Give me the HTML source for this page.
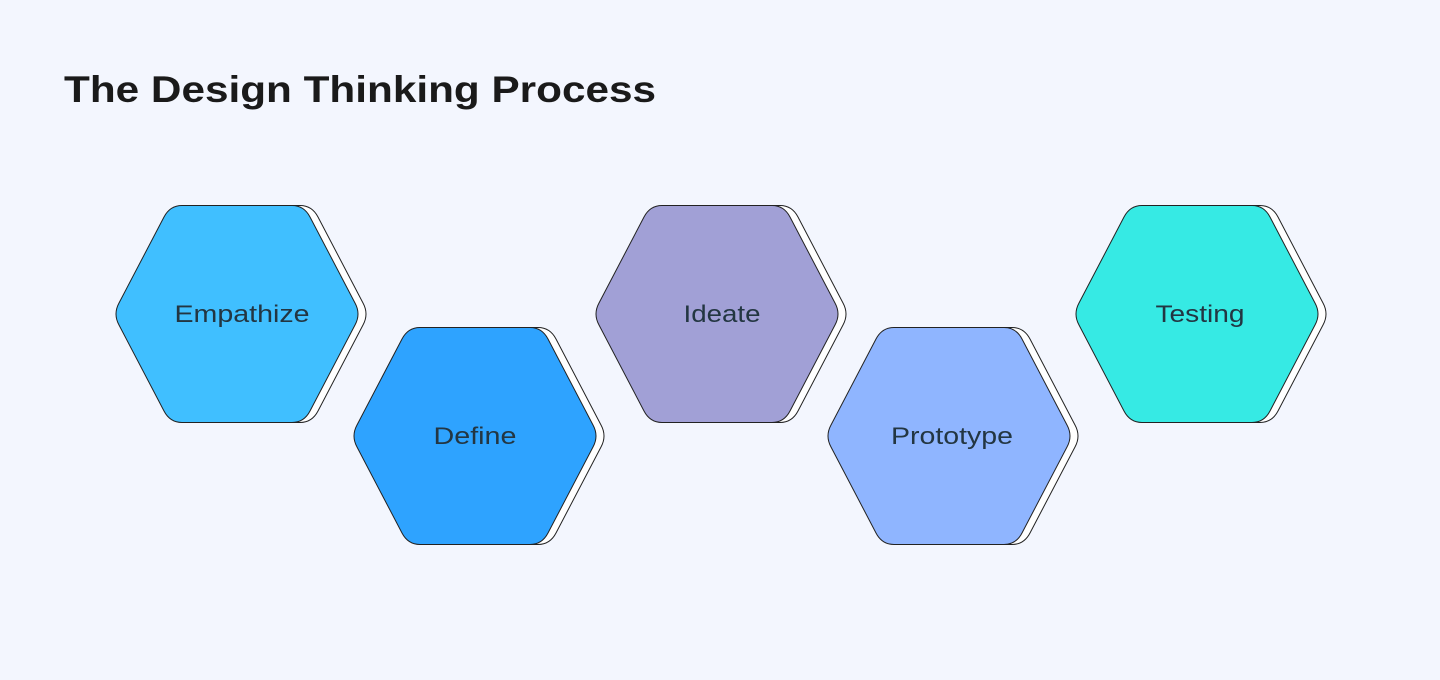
<!DOCTYPE html>
<html><head><style>
html,body{margin:0;padding:0;background:#f3f6fe;}
body{width:1440px;height:675px;overflow:hidden;font-family:"Liberation Sans",sans-serif;}
</style></head><body>
<svg width="1440" height="675" viewBox="0 0 1440 675" xmlns="http://www.w3.org/2000/svg">
<defs>
<path id="hx" d="M -118,-11 L -73,-97 Q -67,-108.5 -55,-108.5 L 55,-108.5 Q 67,-108.5 73,-97 L 118,-11 Q 124,0 118,11 L 73,97 Q 67,108.5 55,108.5 L -55,108.5 Q -67,108.5 -73,97 L -118,11 Q -124,0 -118,-11 Z"/>
</defs>
<rect width="1440" height="675" fill="#f3f6fe"/>
<text x="64" y="102" font-family="Liberation Sans, sans-serif" font-weight="bold" font-size="37" fill="#1a1a1a" textLength="592" lengthAdjust="spacingAndGlyphs">The Design Thinking Process</text>
<g font-family="Liberation Sans, sans-serif" font-size="24" fill="#233642" text-anchor="middle">
<g transform="translate(237,314)">
<use href="#hx" x="8" fill="#fff" stroke="#222" stroke-width="1"/>
<use href="#hx" fill="#40bfff" stroke="#222" stroke-width="1"/>
<text x="5" y="8" textLength="135" lengthAdjust="spacingAndGlyphs">Empathize</text></g>
<g transform="translate(475,436)">
<use href="#hx" x="8" fill="#fff" stroke="#222" stroke-width="1"/>
<use href="#hx" fill="#2ea3ff" stroke="#222" stroke-width="1"/>
<text y="8" textLength="83" lengthAdjust="spacingAndGlyphs">Define</text></g>
<g transform="translate(717,314)">
<use href="#hx" x="8" fill="#fff" stroke="#222" stroke-width="1"/>
<use href="#hx" fill="#a1a0d6" stroke="#222" stroke-width="1"/>
<text x="5" y="8" textLength="77" lengthAdjust="spacingAndGlyphs">Ideate</text></g>
<g transform="translate(949,436)">
<use href="#hx" x="8" fill="#fff" stroke="#222" stroke-width="1"/>
<use href="#hx" fill="#8fb5ff" stroke="#222" stroke-width="1"/>
<text x="3" y="8" textLength="122" lengthAdjust="spacingAndGlyphs">Prototype</text></g>
<g transform="translate(1197,314)">
<use href="#hx" x="8" fill="#fff" stroke="#222" stroke-width="1"/>
<use href="#hx" fill="#36eae4" stroke="#222" stroke-width="1"/>
<text x="3" y="8" textLength="89" lengthAdjust="spacingAndGlyphs">Testing</text></g>
</g>
</svg>
</body></html>
